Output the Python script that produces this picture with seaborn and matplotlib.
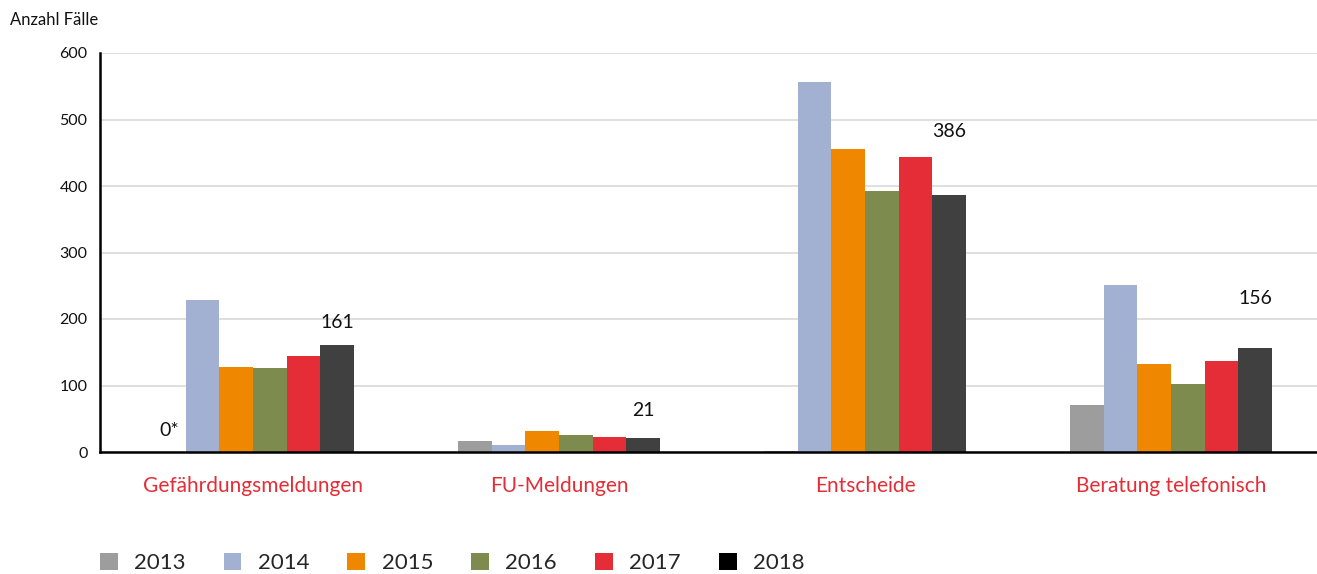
import matplotlib
matplotlib.use("Agg")
import matplotlib.pyplot as plt
from matplotlib.patches import Patch
import seaborn as sns
import pandas as pd

categories = ["Gefährdungsmeldungen", "FU-Meldungen", "Entscheide", "Beratung telefonisch"]
years = ["2013", "2014", "2015", "2016", "2017", "2018"]
values = {
    "2013": [0, 16, 1, 70],
    "2014": [228, 10, 556, 251],
    "2015": [128, 31, 456, 132],
    "2016": [126, 25, 392, 102],
    "2017": [144, 22, 444, 137],
    "2018": [161, 21, 386, 156],
}
bar_colors = ["#9d9d9d", "#a2b1d1", "#f08700", "#7d8c4e", "#e52d37", "#404040"]
legend_colors = ["#9d9d9d", "#a2b1d1", "#f08700", "#7d8c4e", "#e52d37", "#000000"]
y_ticks = [0, 100, 200, 300, 400, 500, 600]
# vertical gap (pixels) between each 2018 bar top and its value label
label_gaps = [22, 28, 64, 50]

rows = [(c, y, values[y][i]) for y in years for i, c in enumerate(categories)]
df = pd.DataFrame(rows, columns=["Kategorie", "Jahr", "Anzahl"])

sns.set_theme(style="white")
plt.rcParams["font.family"] = ["Lato", "DejaVu Sans"]

fig = plt.figure(figsize=(13.17, 5.74), dpi=100)
ax = fig.add_axes([100 / 1317, 122 / 574, 1224 / 1317, 399 / 574])

sns.barplot(data=df, x="Kategorie", y="Anzahl", hue="Jahr", hue_order=years,
            order=categories, palette=bar_colors, width=0.66, saturation=1,
            edgecolor="none", linewidth=0, ax=ax, legend=False)

ax.set_xlim(-0.5, len(categories) - 0.5)
ax.set_ylim(0, 600)
ax.set_yticks(y_ticks)
ax.set_yticklabels([str(t) for t in y_ticks], fontsize=11.5, color="#111111")
ax.yaxis.grid(True, color="#d9d9d9", linewidth=1.2)
ax.set_axisbelow(True)
ax.tick_params(axis="y", length=0, pad=9)

# category labels centred, separator ticks between groups
ax.set_xticks(range(len(categories)))
ax.set_xticklabels(categories, fontsize=15, color="#e52d37")
ax.tick_params(axis="x", which="major", length=0, pad=17)
ax.set_xticks([i + 0.5 for i in range(len(categories) - 1)], minor=True)
ax.tick_params(axis="x", which="minor", length=8, width=1.5, color="black", direction="out")
ax.set_xlabel("")
ax.set_ylabel("")

for side in ["top", "right"]:
    ax.spines[side].set_visible(False)
for side in ["left", "bottom"]:
    ax.spines[side].set_color("black")
    ax.spines[side].set_linewidth(1.8)

# value labels above the 2018 bars and the missing 2013 value
px = 72 / fig.dpi
for bar, val, gap in zip(ax.containers[years.index("2018")], values["2018"], label_gaps):
    ax.annotate(str(val), (bar.get_x() + bar.get_width() / 2, bar.get_height()),
                xytext=(0, gap * px), textcoords="offset points",
                ha="center", va="center", fontsize=14, color="#111111")
b0 = ax.containers[years.index("2013")][0]
ax.annotate("0*", (b0.get_x() + b0.get_width() / 2, values["2013"][0]),
            xytext=(0, 21 * px), textcoords="offset points",
            ha="center", va="center", fontsize=14, color="#111111")

fig.text(10 / 1317, 1 - 20 / 574, "Anzahl Fälle", fontsize=12, va="center", ha="left", color="#111111")

handles = [Patch(facecolor=c, edgecolor="none") for c in legend_colors]
fig.legend(handles, years, loc="center left", bbox_to_anchor=(91 / 1317, 1 - 563 / 574),
           ncol=6, frameon=False, fontsize=16, handlelength=0.8, handleheight=0.8,
           handletextpad=0.75, columnspacing=1.7, borderaxespad=0)

fig.savefig("out.png", dpi=100)
